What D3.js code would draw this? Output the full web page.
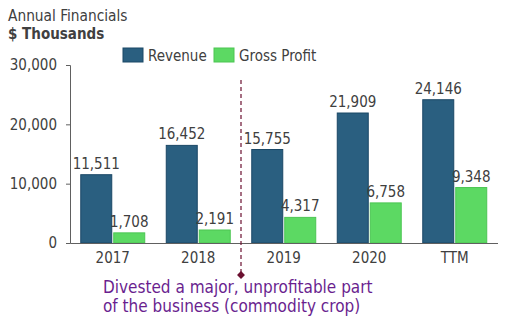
<!DOCTYPE html>
<html><head><meta charset="utf-8">
<script src="https://cdn.jsdelivr.net/npm/d3@7"></script>
<style>body{margin:0;background:#fff}svg{display:block}text{font-family:"DejaVu Sans Condensed","DejaVu Sans",sans-serif;font-stretch:condensed}</style>
</head><body><svg id="c" width="505" height="324"></svg>
<script>
const categories = ["2017","2018","2019","2020","TTM"];
const revenue = [11511,16452,15755,21909,24146];
const grossProfit = [1708,2191,4317,6758,9348];
const seriesNames = ["Revenue","Gross Profit"];
const yTicks = [0,10000,20000,30000];
const title = "Annual Financials";
const subtitle = "$ Thousands";
const annotation = ["Divested a major, unprofitable part","of the business (commodity crop)"];

const FF = '"DejaVu Sans Condensed","DejaVu Sans",sans-serif';
const colors = ["#2a5f80","#5cd963"];
const strokes = ["#1b4866","#4cc553"];
const svg = d3.select("#c");
const x0 = d3.scaleBand().domain(categories).range([70,497.5]).paddingInner(0.24).paddingOuter(0.12);
const x1 = d3.scaleBand().domain(seriesNames).range([0,x0.bandwidth()]).paddingInner(0.03);
const y = d3.scaleLinear().domain([0,30000]).range([243,65]);
const fmt = d3.format(",");

svg.append("text").attr("x",8).attr("y",21).attr("font-size",15.3).attr("fill","#404040").text(title);
svg.append("text").attr("x",8).attr("y",39).attr("font-size",15).attr("font-weight","bold").attr("fill","#404040").text(subtitle);

// legend
const lg = svg.append("g");
const lx = [123,214];
seriesNames.forEach((n,i)=>{
  lg.append("rect").attr("x",lx[i]).attr("y",48).attr("width",20).attr("height",14).attr("fill",colors[i]).attr("stroke",strokes[i]);
  lg.append("text").attr("x",lx[i]+25).attr("y",61).attr("font-size",15).attr("fill","#404040").text(n);
});

// y axis
const ya = svg.append("g").attr("transform","translate(70,0)")
  .call(d3.axisLeft(y).tickValues(yTicks).tickFormat(fmt).tickSize(4).tickPadding(9));
ya.select(".domain").attr("stroke","#606060");
ya.selectAll(".tick line").attr("stroke","#606060");
ya.selectAll("text").attr("font-size",15).attr("fill","#404040").style("font-family",FF);

// bars
const data = categories.map((c,i)=>({c, vals:[revenue[i],grossProfit[i]]}));
const g = svg.append("g");
data.forEach(d=>{
  d.vals.forEach((v,j)=>{
    const bx = x0(d.c)+x1(seriesNames[j]);
    g.append("rect").attr("x",bx+0.5).attr("y",y(v)).attr("width",x1.bandwidth()-1).attr("height",y(0)-y(v))
      .attr("fill",colors[j]).attr("stroke",strokes[j]);
    g.append("text").attr("x",bx+x1.bandwidth()/2).attr("y",y(v)-6).attr("text-anchor","middle")
      .attr("font-size",15).attr("fill","#404040").text(fmt(v));
  });
});

// x axis
const xa = svg.append("g").attr("transform","translate(0,243)")
  .call(d3.axisBottom(x0).tickSize(0).tickPadding(9).tickSizeOuter(0));
xa.select(".domain").attr("stroke","#606060");
xa.selectAll("text").attr("font-size",15).attr("fill","#404040").style("font-family",FF);

// annotation
const ax = (x0("2018")+x0.bandwidth()+x0("2019"))/2;
svg.append("line").attr("x1",ax).attr("x2",ax).attr("y1",80).attr("y2",275)
  .attr("stroke","#6b1030").attr("stroke-width",1.2).attr("stroke-dasharray","4,3");
svg.append("path").attr("d",d3.symbol(d3.symbolDiamond2,40)()).attr("transform",`translate(${ax},275)`).attr("fill","#6b1030");
annotation.forEach((t,i)=>{
  svg.append("text").attr("x",103).attr("y",293+i*19).attr("font-size",17).attr("fill","#6a1f8f").text(t);
});
</script></body></html>
